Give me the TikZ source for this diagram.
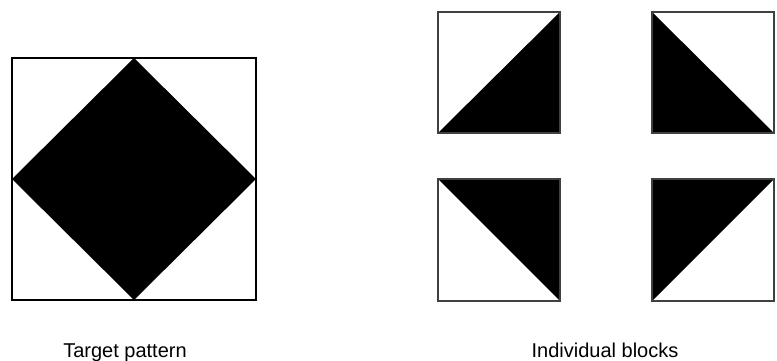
\documentclass[tikz,border=0pt]{standalone}
\usepackage{fontspec}
\setmainfont{Liberation Sans}
\usepackage{tikz}
\usetikzlibrary{positioning}

\begin{document}
\begin{tikzpicture}[x=1pt, y=-1pt, caption/.style={inner sep=0pt, anchor=base, font=\fontsize{20}{24}\selectfont}]
\useasboundingbox (0,0) rectangle (777,361);
\fill[black] (134,58) -- (256,179) -- (134,300) -- (12,179) -- cycle;
\draw[black, line width=2.6pt] (12,58) rectangle (256,300);
\fill[black] (560,12) -- (560,133) -- (438,133) -- cycle;
\fill[black] (652,12) -- (774,133) -- (652,133) -- cycle;
\fill[black] (438,179) -- (560,179) -- (560,301) -- cycle;
\fill[black] (652,179) -- (774,179) -- (652,301) -- cycle;
\draw[black!75, line width=1.5pt] (438,12) rectangle (560,133);
\draw[black!75, line width=1.5pt] (652,12) rectangle (774,133);
\draw[black!75, line width=1.5pt] (438,179) rectangle (560,301);
\draw[black!75, line width=1.5pt] (652,179) rectangle (774,301);
\node[caption] (target) at (125,357) {Target pattern};
\node[caption] (blocks) at (605,357) {Individual blocks};
\end{tikzpicture}
\end{document}
